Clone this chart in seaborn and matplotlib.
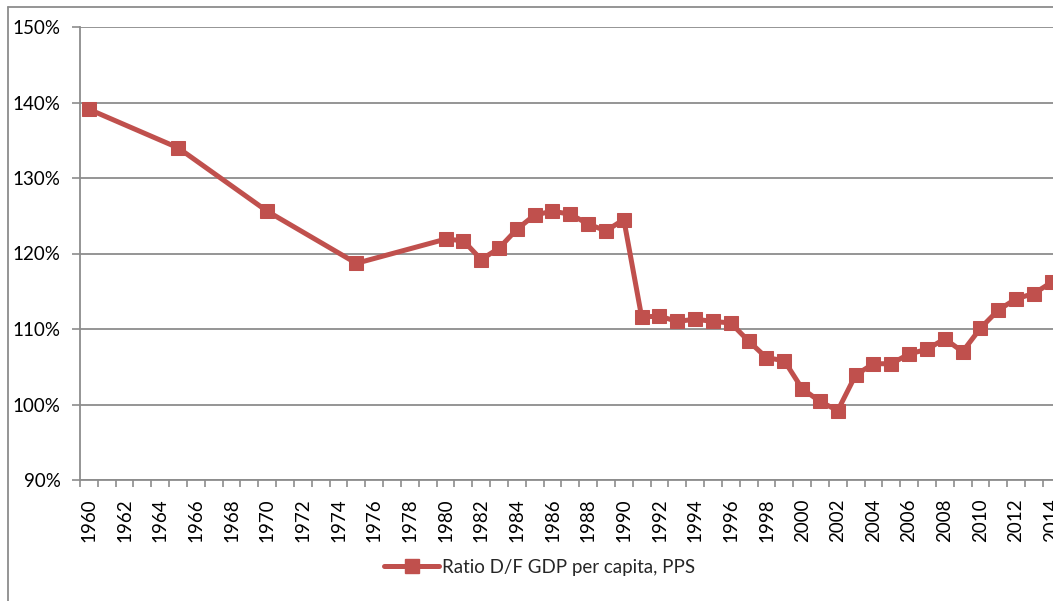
import numpy as np
import pandas as pd
import seaborn as sns
import matplotlib.pyplot as plt
from matplotlib.lines import Line2D
from matplotlib.ticker import FixedLocator, FuncFormatter

years = [1960, 1965, 1970, 1975, 1980, 1981, 1982, 1983, 1984, 1985, 1986, 1987, 1988,
         1989, 1990, 1991, 1992, 1993, 1994, 1995, 1996, 1997, 1998, 1999, 2000, 2001,
         2002, 2003, 2004, 2005, 2006, 2007, 2008, 2009, 2010, 2011, 2012, 2013, 2014]
ratio = [139.1, 134.0, 125.6, 118.7, 121.9, 121.7, 119.2, 120.7, 123.2, 125.1, 125.6,
         125.2, 123.9, 123.0, 124.5, 111.6, 111.7, 111.0, 111.3, 111.0, 110.8, 108.4,
         106.2, 105.8, 102.1, 100.4, 99.2, 103.9, 105.4, 105.4, 106.7, 107.3, 108.7,
         107.0, 110.1, 112.5, 114.0, 114.7, 116.2]
label = "Ratio D/F GDP per capita, PPS"

df = pd.DataFrame({"year": years, "ratio": ratio})

sns.set_theme(style="white")
plt.rcParams['font.family'] = ['Lato', 'DejaVu Sans']

W, H = 1053, 601
fig = plt.figure(figsize=(W / 100, H / 100), dpi=100)
px_per_year = 17.83
x0, x1 = 1959.5, 2016.5
ax = fig.add_axes([80 / W, 1 - 480 / H, (x1 - x0) * px_per_year / W, (480 - 27) / H])

red = '#C0504D'
sns.lineplot(data=df, x='year', y='ratio', ax=ax, color=red, linewidth=3.6,
             marker='s', markersize=10.5, markeredgecolor=red, markerfacecolor=red,
             label=label, legend=False)

ax.set_xlim(x0, x1)
ax.set_ylim(90, 150)
ax.set_yticks(np.arange(90, 151, 10))
ax.yaxis.set_major_formatter(FuncFormatter(lambda v, p: f"{v:.0f}%"))
ax.yaxis.grid(True, color='#8c8c8c', linewidth=1.3)
ax.set_axisbelow(True)

ax.set_xticks(np.arange(1960, 2017, 2))
ax.set_xticklabels([str(y) for y in range(1960, 2017, 2)], rotation=90)
ax.xaxis.set_minor_locator(FixedLocator(np.arange(1959.5, 2017, 1)))
ax.tick_params(axis='x', which='major', length=0, pad=13, labelsize=13.5, colors='black')
ax.tick_params(axis='x', which='minor', bottom=True, length=5, width=1.2, color='#8c8c8c')
ax.tick_params(axis='y', left=True, length=6, width=1.2, color='#8c8c8c', labelsize=13.5,
               pad=8, labelcolor='black')
ax.set_xlabel('')
ax.set_ylabel('')

for s in ['top', 'right']:
    ax.spines[s].set_visible(False)
for s in ['left', 'bottom']:
    ax.spines[s].set_color('#8c8c8c')
    ax.spines[s].set_linewidth(1.3)

# outer chart border (cropped on the right and bottom)
fig.add_artist(Line2D([8 / W, 8 / W], [0, 1 - 7 / H], transform=fig.transFigure,
                      color='#8c8c8c', linewidth=1.3))
fig.add_artist(Line2D([8 / W, 1], [1 - 7 / H, 1 - 7 / H], transform=fig.transFigure,
                      color='#8c8c8c', linewidth=1.3))

handle = Line2D([], [], color=red, linewidth=3.6, marker='s', markersize=10.5)
fig.legend([handle], [label], loc='center', bbox_to_anchor=(540 / W, 1 - 567 / H),
           frameon=False, fontsize=13.5, handlelength=2.9, handletextpad=0.2)

fig.savefig('out.png', dpi=100)
